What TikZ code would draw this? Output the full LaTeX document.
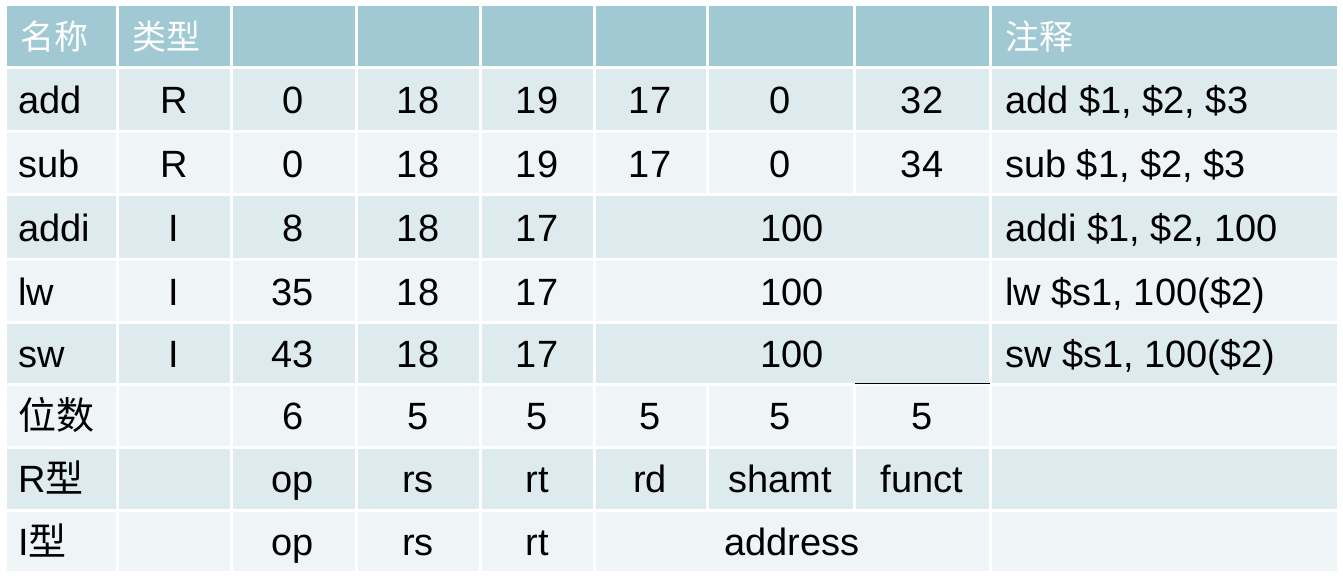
\documentclass[tikz,border=0pt]{standalone}
\usepackage{fontspec}
\setmainfont{Liberation Sans}
\newfontfamily\cjk{Noto Sans CJK SC}
\definecolor{hdr}{HTML}{A0C9D3}
\definecolor{dk}{HTML}{DDEBEE}
\definecolor{lt}{HTML}{EFF5F7}
\begin{document}
\begin{tikzpicture}[x=1pt,y=-1pt,
  txt/.style={font=\fontsize{38}{42}\selectfont,inner sep=0pt,anchor=base},
  ltxt/.style={font=\fontsize{38}{42}\selectfont,inner sep=0pt,anchor=base west},
  htxt/.style={font=\cjk\fontsize{34}{38}\selectfont,text=white,inner sep=0pt,anchor=base west}]
\useasboundingbox[fill=white] (0,0) rectangle (1343,588);
\def\xs{{5,117,231,356,480,594,707,854,990,1338}}
\def\ys{{5,68,132,195,259,322,384,447,510,572}}
\foreach \r/\c in {0/hdr,1/dk,2/lt,3/dk,4/lt,5/dk,6/lt,7/dk,8/lt}{
  \foreach \k in {0,...,8}{
    \pgfmathsetmacro{\xa}{\xs[\k]+1.5}\pgfmathsetmacro{\xb}{\xs[\k+1]-1.5}
    \pgfmathsetmacro{\ya}{\ys[\r]+1.5}\pgfmathsetmacro{\yb}{\ys[\r+1]-1.5}
    \fill[\c] (\xa,\ya) rectangle (\xb,\yb);
  }}
\foreach \r/\c in {3/dk,4/lt,5/dk,8/lt}{
  \pgfmathsetmacro{\ya}{\ys[\r]+1.5}\pgfmathsetmacro{\yb}{\ys[\r+1]-1.5}
  \fill[\c] (595.5,\ya) rectangle (988.5,\yb);}
\draw[line width=1.5pt] (855,383.5) -- (990,383.5);
\node[htxt] (h1) at (20,50) {名称};
\node[htxt] (h2) at (132,50) {类型};
\node[htxt] (h3) at (1005,50) {注释};
\foreach \r/\y/\a/\b/\c/\d/\e/\f/\g/\h/\n in {
 1/114/add/R/0/18/19/17/0/32/{add \$1, \$2, \$3},
 2/178/sub/R/0/18/19/17/0/34/{sub \$1, \$2, \$3}}{
  \node[ltxt] (a\r) at (18,\y) {\a};
  \node[txt] (b\r) at (174,\y) {\b};
  \node[txt] (c\r) at (293,\y) {\c};
  \node[txt] (d\r) at (418,\y) {\d};
  \node[txt] (e\r) at (537,\y) {\e};
  \node[txt] (f\r) at (650,\y) {\f};
  \node[txt] (g\r) at (780,\y) {\g};
  \node[txt] (k\r) at (922,\y) {\h};
  \node[ltxt] (n\r) at (1005,\y) {\n};
}
\foreach \r/\y/\a/\c/\n in {
 3/241/addi/8/{addi \$1, \$2, 100},
 4/305/lw/35/{lw \$s1, 100(\$2)},
 5/367/sw/43/{sw \$s1, 100(\$2)}}{
  \node[ltxt] (a\r) at (18,\y) {\a};
  \node[txt] (b\r) at (174,\y) {I};
  \node[txt] (c\r) at (293,\y) {\c};
  \node[txt] (d\r) at (418,\y) {18};
  \node[txt] (e\r) at (537,\y) {17};
  \node[txt] (m\r) at (792,\y) {100};
  \node[ltxt] (n\r) at (1005,\y) {\n};
}
\node[ltxt] (a6) at (18,429) {\cjk 位数};
\foreach \v/\x/\i in {6/293/1,5/418/2,5/537/3,5/650/4,5/780/5,5/922/6}
  \node[txt] (w\i) at (\x,429) {\v};
\node[ltxt] (a7) at (18,492) {R\cjk 型};
\foreach \v/\x/\i in {op/293/1,rs/418/2,rt/537/3,rd/650/4,shamt/780/5,funct/922/6}
  \node[txt] (r\i) at (\x,492) {\v};
\node[ltxt] (a8) at (18,555) {I\cjk 型};
\foreach \v/\x/\i in {op/293/1,rs/418/2,rt/537/3,address/792/4}
  \node[txt] (i\i) at (\x,555) {\v};
\end{tikzpicture}
\end{document}
